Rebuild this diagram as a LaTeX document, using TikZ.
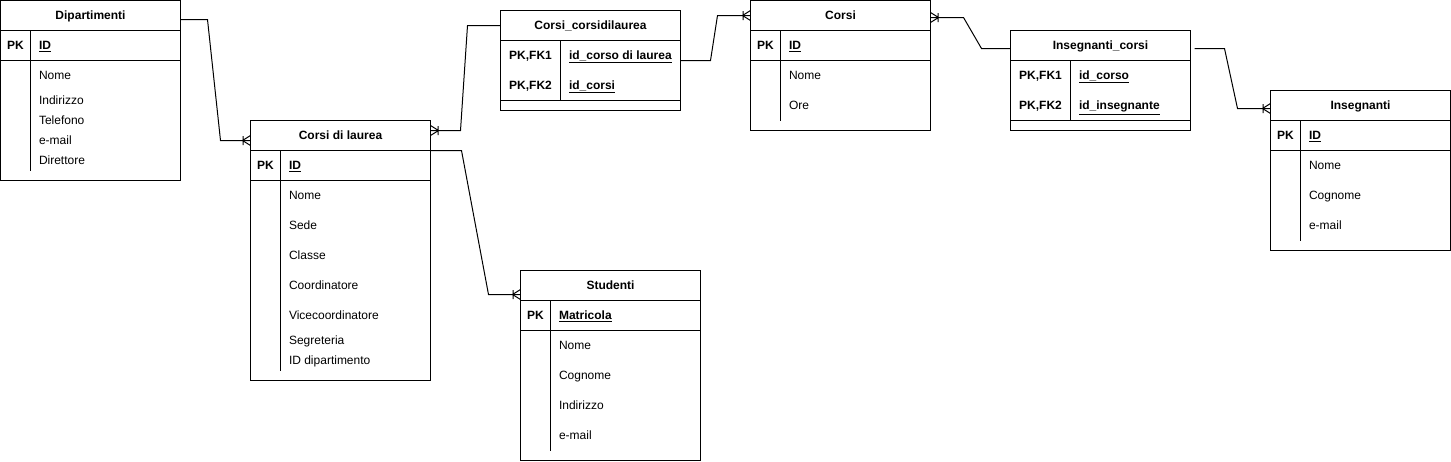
\documentclass[tikz,border=0pt]{standalone}
\usepackage{fontspec}
\setmainfont{Liberation Sans}

% crow's foot with bar (one or many)
\pgfdeclarearrow{
  name = ERmany,
  setup code = {
    \pgfarrowssettipend{0pt}
    \pgfarrowssetlineend{0pt}
    \pgfarrowssetbackend{-8pt}
    \pgfarrowsupperhullpoint{0pt}{5pt}
    \pgfarrowsupperhullpoint{-8pt}{5pt}
  },
  drawing code = {
    \pgfpathmoveto{\pgfqpoint{0pt}{5pt}}
    \pgfpathlineto{\pgfqpoint{-8pt}{0pt}}
    \pgfpathlineto{\pgfqpoint{0pt}{-5pt}}
    \pgfpathmoveto{\pgfqpoint{-7.5pt}{4.5pt}}
    \pgfpathlineto{\pgfqpoint{-7.5pt}{-4.5pt}}
    \pgfusepathqstroke
  }
}

\begin{document}
\begin{tikzpicture}[x=1pt, y=-1pt, line width=1pt,
  every node/.style={font=\fontsize{12pt}{14pt}\selectfont, inner sep=0pt, text height=8.6pt, text depth=0pt},
  tbl/.style={draw, anchor=north west, minimum width=180pt, outer sep=0pt},
  head/.style={font=\fontsize{12pt}{14pt}\selectfont\bfseries},
  key/.style={font=\fontsize{12pt}{14pt}\selectfont\bfseries},
  fld/.style={anchor=west, font=\fontsize{12pt}{14pt}\selectfont\bfseries},
  attr/.style={anchor=west},
  rel/.style={-ERmany}]

	\useasboundingbox (-0.5,-0.5) rectangle (1450.5,460.5);

	% Dipartimenti
	\node[tbl, minimum height=180pt] (dip) at (0,0) {};
	\node[head] (dipH) at (90,15) {Dipartimenti};
	\node[key] (dipK) at (15,45) {PK};
	\node[fld] (dipF) at (38,45) {\underline{ID}};
	\node[attr] (dipA) at (38,75) {Nome};
	\node[attr] (dipB) at (38,100) {Indirizzo};
	\node[attr] (dipC) at (38,120) {Telefono};
	\node[attr] (dipD) at (38,140) {e-mail};
	\node[attr] (dipE) at (38,160) {Direttore};
	\draw (0,30) -- (180,30);
	\draw (0,60) -- (180,60);
	\draw (30,30) -- (30,170);

	% Corsi di laurea
	\node[tbl, minimum height=260pt] (cdl) at (250,120) {};
	\node[head] (cdlH) at (340,135) {Corsi di laurea};
	\node[key] (cdlK) at (265,165) {PK};
	\node[fld] (cdlF) at (288,165) {\underline{ID}};
	\node[attr] (cdlA) at (288,195) {Nome};
	\node[attr] (cdlB) at (288,225) {Sede};
	\node[attr] (cdlC) at (288,255) {Classe};
	\node[attr] (cdlD) at (288,285) {Coordinatore};
	\node[attr] (cdlE) at (288,315) {Vicecoordinatore};
	\node[attr] (cdlG) at (288,340) {Segreteria};
	\node[attr] (cdlI) at (288,360) {ID dipartimento};
	\draw (250,150) -- (430,150);
	\draw (250,180) -- (430,180);
	\draw (280,150) -- (280,370);

	% Corsi_corsidilaurea
	\node[tbl, minimum height=100pt] (ccl) at (500,10) {};
	\node[head] (cclH) at (590,25) {Corsi\_corsidilaurea};
	\node[key] (cclK1) at (530,55) {PK,FK1};
	\node[key] (cclK2) at (530,85) {PK,FK2};
	\node[fld] (cclF1) at (568,55) {\underline{id\_corso di laurea}};
	\node[fld] (cclF2) at (568,85) {\underline{id\_corsi}};
	\draw (500,40) -- (680,40);
	\draw (500,100) -- (680,100);
	\draw (560,40) -- (560,100);

	% Corsi
	\node[tbl, minimum height=130pt] (cor) at (750,0) {};
	\node[head] (corH) at (840,15) {Corsi};
	\node[key] (corK) at (765,45) {PK};
	\node[fld] (corF) at (788,45) {\underline{ID}};
	\node[attr] (corA) at (788,75) {Nome};
	\node[attr] (corB) at (788,105) {Ore};
	\draw (750,30) -- (930,30);
	\draw (750,60) -- (930,60);
	\draw (780,30) -- (780,120);

	% Insegnanti_corsi
	\node[tbl, minimum height=100pt] (inc) at (1010,30) {};
	\node[head] (incH) at (1100,45) {Insegnanti\_corsi};
	\node[key] (incK1) at (1040,75) {PK,FK1};
	\node[key] (incK2) at (1040,105) {PK,FK2};
	\node[fld] (incF1) at (1078,75) {\underline{id\_corso}};
	\node[fld] (incF2) at (1078,105) {\underline{id\_insegnante}};
	\draw (1010,60) -- (1190,60);
	\draw (1010,120) -- (1190,120);
	\draw (1070,60) -- (1070,120);

	% Insegnanti
	\node[tbl, minimum height=160pt] (ins) at (1270,90) {};
	\node[head] (insH) at (1360,105) {Insegnanti};
	\node[key] (insK) at (1285,135) {PK};
	\node[fld] (insF) at (1308,135) {\underline{ID}};
	\node[attr] (insA) at (1308,165) {Nome};
	\node[attr] (insB) at (1308,195) {Cognome};
	\node[attr] (insC) at (1308,225) {e-mail};
	\draw (1270,120) -- (1450,120);
	\draw (1270,150) -- (1450,150);
	\draw (1300,120) -- (1300,240);

	% Studenti
	\node[tbl, minimum height=190pt] (stu) at (520,270) {};
	\node[head] (stuH) at (610,285) {Studenti};
	\node[key] (stuK) at (535,315) {PK};
	\node[fld] (stuF) at (558,315) {\underline{Matricola}};
	\node[attr] (stuA) at (558,345) {Nome};
	\node[attr] (stuB) at (558,375) {Cognome};
	\node[attr] (stuC) at (558,405) {Indirizzo};
	\node[attr] (stuD) at (558,435) {e-mail};
	\draw (520,300) -- (700,300);
	\draw (520,330) -- (700,330);
	\draw (550,300) -- (550,450);

	% relations
	\draw[rel] ([yshift=-19pt]dip.north east) -- (207,19) -- (220,140) -- ([yshift=-20pt]cdl.north west);
	\draw[rel] ([yshift=-15pt]ccl.north west) -- (467,25) -- (460,130) -- ([yshift=-10pt]cdl.north east);
	\draw[rel] ([yshift=-50pt]ccl.north east) -- (710,60) -- (717,15) -- ([yshift=-15pt]cor.north west);
	\draw[rel] ([yshift=-18pt]inc.north west) -- (981,48) -- (963,17) -- ([yshift=-17pt]cor.north east);
	\draw[rel] ([xshift=4pt,yshift=-18pt]inc.north east) -- (1224,48) -- (1237,108) -- ([yshift=-18pt]ins.north west);
	\draw[rel] ([yshift=-30pt]cdl.north east) -- (461,150) -- (488,294) -- ([yshift=-24pt]stu.north west);
\end{tikzpicture}
\end{document}
